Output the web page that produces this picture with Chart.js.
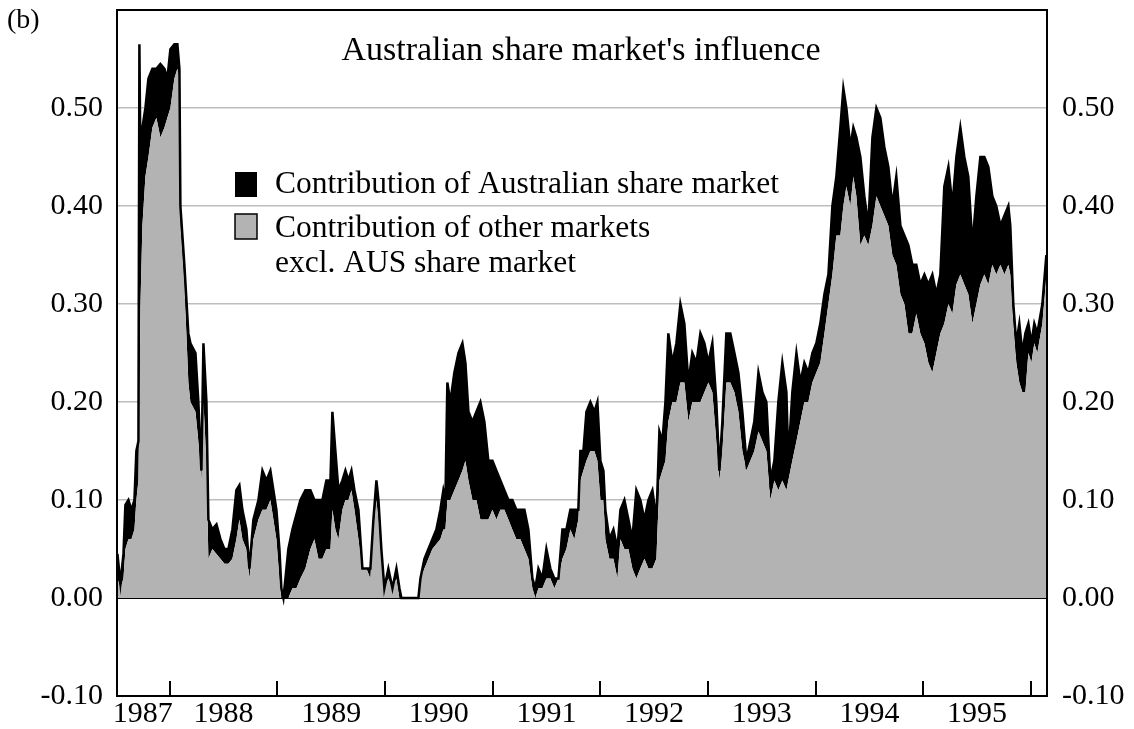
<!DOCTYPE html>
<html>
<head>
<meta charset="utf-8">
<script src="https://cdn.jsdelivr.net/npm/chart.js@4.4.1/dist/chart.umd.min.js"></script>
<style>
  html, body { margin: 0; padding: 0; background: #fff; }
  #wrap { width: 1134px; height: 729px; position: relative; }
</style>
</head>
<body>
<div id="wrap"><canvas id="chart"></canvas></div>
<script>
// dates as decimal years
const dates = [
  1987.514,1987.542,1987.570,1987.588,1987.616,1987.644,1987.672,1987.690,1987.709,1987.718,1987.728,1987.746,1987.774,1987.802,1987.839,1987.876,1987.913,1987.951,1987.978,
  1988.006,1988.043,1988.071,1988.090,1988.099,1988.136,1988.173,1988.192,1988.239,1988.266,1988.294,1988.313,1988.341,1988.359,1988.396,1988.434,1988.471,1988.508,1988.545,1988.582,1988.619,1988.647,1988.675,1988.712,1988.740,1988.777,1988.824,1988.861,1988.898,1988.935,1988.963,1988.991,
  1989.019,1989.037,1989.056,1989.075,1989.102,1989.140,1989.177,1989.214,1989.260,1989.307,1989.344,1989.381,1989.418,1989.455,1989.493,1989.511,1989.539,1989.567,1989.604,1989.632,1989.660,1989.688,1989.716,1989.753,1989.790,1989.827,1989.864,1989.892,1989.920,1989.939,1989.966,1989.994,
  1990.031,1990.069,1990.106,1990.134,1990.152,1990.310,1990.329,1990.366,1990.403,1990.440,1990.477,1990.514,1990.542,1990.561,1990.579,1990.607,1990.644,1990.682,1990.719,1990.747,1990.775,1990.812,1990.849,1990.886,1990.923,1990.960,1990.998,
  1991.035,1991.072,1991.109,1991.146,1991.183,1991.220,1991.258,1991.295,1991.332,1991.369,1991.397,1991.425,1991.462,1991.499,1991.536,1991.573,1991.611,1991.648,1991.685,1991.722,1991.759,1991.796,1991.815,1991.843,1991.871,1991.908,1991.945,1991.973,
  1992.001,1992.029,1992.047,1992.084,1992.122,1992.159,1992.187,1992.224,1992.261,1992.298,1992.335,1992.372,1992.410,1992.447,1992.484,1992.521,1992.549,1992.577,1992.605,1992.632,1992.670,1992.707,1992.744,1992.781,1992.818,1992.855,1992.893,1992.930,1992.967,
  1993.004,1993.041,1993.078,1993.106,1993.134,1993.171,1993.208,1993.246,1993.283,1993.320,1993.357,1993.394,1993.431,1993.469,1993.506,1993.543,1993.580,1993.617,1993.654,1993.691,1993.729,1993.747,1993.784,1993.822,1993.859,1993.896,1993.933,1993.970,
  1994.007,1994.044,1994.082,1994.119,1994.156,1994.193,1994.230,1994.258,1994.286,1994.323,1994.351,1994.379,1994.416,1994.453,1994.490,1994.528,1994.565,1994.602,1994.639,1994.676,1994.713,1994.750,1994.788,1994.825,1994.862,1994.899,1994.936,1994.973,
  1995.011,1995.048,1995.085,1995.122,1995.159,1995.196,1995.234,1995.271,1995.308,1995.345,1995.382,1995.419,1995.457,1995.494,1995.531,1995.568,1995.605,1995.642,1995.679,1995.717,1995.754,1995.791,1995.809,1995.837,1995.865,1995.893,1995.921,1995.949,1995.977,1996.005,1996.032,1996.060,1996.107,1996.144
];

// contribution of other markets excl. AUS share market (grey)
const otherMarkets = [
  0.02,0.01,0.02,0.05,0.06,0.06,0.07,0.10,0.12,0.20,0.30,0.38,0.43,0.45,0.48,0.49,0.47,0.48,0.49,
  0.50,0.53,0.54,0.53,0.38,0.32,0.22,0.20,0.19,0.16,0.12,0.20,0.14,0.04,0.05,0.045,0.04,0.035,0.035,0.04,0.06,0.08,0.06,0.05,0.02,0.06,0.08,0.09,0.09,0.10,0.08,0.06,
  0.02,0,0,0,0,0.01,0.01,0.02,0.03,0.05,0.06,0.04,0.04,0.05,0.05,0.09,0.07,0.06,0.09,0.10,0.10,0.11,0.09,0.06,0.03,0.03,0.02,0.07,0.10,0.08,0.04,0.01,
  0.02,0.01,0.02,0,0,0,0.02,0.03,0.04,0.05,0.055,0.06,0.07,0.07,0.10,0.10,0.11,0.12,0.13,0.14,0.12,0.10,0.10,0.08,0.08,0.08,0.09,
  0.08,0.09,0.09,0.08,0.07,0.06,0.06,0.05,0.04,0.01,0,0.01,0.01,0.02,0.02,0.01,0.02,0.04,0.05,0.07,0.06,0.08,0.12,0.13,0.14,0.15,0.15,0.14,
  0.10,0.10,0.06,0.04,0.04,0.02,0.06,0.05,0.05,0.03,0.02,0.03,0.04,0.03,0.03,0.04,0.12,0.13,0.14,0.18,0.20,0.20,0.22,0.22,0.18,0.20,0.20,0.20,0.21,
  0.22,0.21,0.16,0.12,0.15,0.22,0.22,0.21,0.19,0.15,0.13,0.14,0.15,0.17,0.16,0.15,0.10,0.12,0.11,0.12,0.11,0.12,0.14,0.16,0.18,0.20,0.20,0.22,
  0.23,0.24,0.27,0.30,0.33,0.37,0.37,0.40,0.42,0.40,0.43,0.41,0.36,0.37,0.36,0.38,0.41,0.40,0.39,0.38,0.35,0.34,0.31,0.30,0.27,0.27,0.29,0.27,
  0.26,0.24,0.23,0.25,0.27,0.28,0.30,0.29,0.32,0.33,0.32,0.31,0.28,0.30,0.32,0.33,0.32,0.34,0.33,0.34,0.33,0.34,0.33,0.28,0.24,0.22,0.21,0.21,0.25,0.24,0.26,0.25,0.28,0.33
];

// contribution of the Australian share market (black, stacked on top)
const ausShare = [
  0.025,0.005,0.025,0.045,0.04,0.03,0.03,0.05,0.04,0.365,0.14,0.10,0.07,0.08,0.06,0.05,0.075,0.06,0.04,
  0.06,0.035,0.025,0.01,0.02,0.02,0.05,0.06,0.06,0.04,0.01,0.06,0.06,0.04,0.02,0.03,0.02,0.015,0.015,0.03,0.05,0.035,0.03,0.02,0.01,0.02,0.02,0.04,0.03,0.03,0.03,0.03,
  0.03,0.01,0,0.02,0.05,0.06,0.075,0.08,0.08,0.06,0.04,0.06,0.06,0.07,0.07,0.10,0.08,0.05,0.03,0.03,0.02,0.02,0.02,0.03,0,0,0.01,0.01,0.02,0.02,0.01,0,
  0.01,0,0.01,0.01,0,0,0,0.01,0.01,0.01,0.015,0.03,0.04,0.03,0.12,0.10,0.12,0.13,0.13,0.10,0.07,0.08,0.09,0.12,0.10,0.06,0.05,
  0.05,0.03,0.02,0.02,0.03,0.03,0.03,0.04,0.03,0.01,0.01,0.02,0.01,0.03,0.01,0.01,0,0.03,0.02,0.02,0.03,0.01,0.03,0.02,0.05,0.05,0.04,0.06,
  0.04,0.03,0.03,0.02,0.03,0.03,0.03,0.05,0.03,0.03,0.09,0.07,0.04,0.07,0.08,0.04,0.05,0.03,0.06,0.09,0.04,0.06,0.08,0.06,0.04,0.05,0.04,0.07,0.05,
  0.02,0.05,0.04,0.01,0.03,0.05,0.05,0.04,0.04,0.04,0.01,0.02,0.03,0.06,0.05,0.05,0.02,0.02,0.09,0.12,0.10,0.02,0.07,0.09,0.04,0.04,0.03,0.03,
  0.03,0.04,0.04,0.03,0.07,0.06,0.11,0.12,0.08,0.06,0.05,0.06,0.09,0.04,0.02,0.09,0.09,0.09,0.07,0.06,0.05,0.09,0.07,0.07,0.09,0.07,0.05,0.05,
  0.07,0.08,0.10,0.06,0.06,0.14,0.14,0.11,0.13,0.15,0.13,0.12,0.08,0.11,0.13,0.12,0.12,0.07,0.07,0.04,0.06,0.06,0.05,0.02,0.02,0.06,0.04,0.06,0.03,0.02,0.02,0.02,0.02,0.02
];

const yearTicks = [1988, 1989, 1990, 1991, 1992, 1993, 1994, 1995, 1996];
const yearLabelAt = [1987.75, 1988.5, 1989.5, 1990.5, 1991.5, 1992.5, 1993.5, 1994.5, 1995.5];
const yearLabels = ['1987', '1988', '1989', '1990', '1991', '1992', '1993', '1994', '1995'];
const valueTicks = [-0.1, 0, 0.1, 0.2, 0.3, 0.4, 0.5];

const seriesNames = ['Contribution of other markets excl. AUS share market', 'Contribution of Australian share market'];
const titleText = "Australian share market's influence";
const panelLabel = '(b)';

const FONT = 'Liberation Serif, Times New Roman, serif';
Chart.defaults.font.family = FONT;
Chart.defaults.font.size = 30;
Chart.defaults.color = '#000';

// frame, inward year ticks, title, legend
const decor = {
  id: 'decor',
  afterDraw(chart) {
    const { ctx, chartArea: a, scales } = chart;
    ctx.save();
    ctx.strokeStyle = '#000';
    ctx.lineWidth = 2;
    ctx.strokeRect(a.left, a.top, a.right - a.left, a.bottom - a.top);

    ctx.beginPath();
    yearTicks.forEach(v => {
      const px = Math.round(scales.x.getPixelForValue(v));
      ctx.moveTo(px, a.bottom);
      ctx.lineTo(px, a.bottom - 15);
    });
    ctx.stroke();

    ctx.fillStyle = '#000';
    ctx.textBaseline = 'middle';
    ctx.font = '34px ' + FONT;
    ctx.textAlign = 'center';
    ctx.fillText(titleText, 581, 51);

    ctx.font = '28px ' + FONT;
    ctx.textAlign = 'left';
    ctx.fillText(panelLabel, 7, 21);

    // legend
    const ds = chart.data.datasets;
    ctx.fillStyle = ds[1].backgroundColor;
    ctx.fillRect(235, 172, 22, 25);
    ctx.fillStyle = ds[0].backgroundColor;
    ctx.fillRect(235, 214, 22, 25);
    ctx.lineWidth = 1.5;
    ctx.strokeRect(235, 214, 22, 25);
    ctx.fillStyle = '#000';
    ctx.font = '31.5px ' + FONT;
    ctx.fillText(ds[1].label, 275, 185);
    ctx.fillText('Contribution of other markets', 275, 229);
    ctx.fillText('excl. AUS share market', 275, 264);
    ctx.restore();
  }
};

const yTickSetup = {
  type: 'linear',
  min: -0.1,
  max: 0.6,
  afterBuildTicks: s => { s.ticks = valueTicks.map(v => ({ value: v })); },
  ticks: { callback: v => v.toFixed(2) }
};

new Chart(document.getElementById('chart'), {
  type: 'line',
  data: {
    datasets: [
      {
        label: seriesNames[0],
        data: dates.map((d, i) => ({ x: d, y: otherMarkets[i] })),
        backgroundColor: '#b3b3b3',
        borderWidth: 0,
        pointRadius: 0,
        fill: 'origin',
        tension: 0
      },
      {
        label: seriesNames[1],
        data: dates.map((d, i) => ({ x: d, y: ausShare[i] })),
        backgroundColor: '#000',
        borderColor: '#000',
        borderWidth: 2.5,
        pointRadius: 0,
        fill: '-1',
        tension: 0
      }
    ]
  },
  options: {
    responsive: true,
    maintainAspectRatio: false,
    animation: false,
    layout: { padding: { top: 10 } },
    plugins: {
      legend: { display: false },
      tooltip: { enabled: false },
      filler: { drawTime: 'beforeDatasetsDraw' }
    },
    scales: {
      x: {
        type: 'linear',
        min: 1987.51,
        max: 1996.15,
        afterBuildTicks: s => { s.ticks = yearLabelAt.map(v => ({ value: v })); },
        afterFit: s => { s.height = 33; s.paddingLeft = 0; s.paddingRight = 0; },
        grid: { display: false, drawTicks: false },
        border: { display: false },
        ticks: { autoSkip: false, maxRotation: 0, padding: 0, callback: (v, i) => yearLabels[i] }
      },
      y: {
        ...yTickSetup,
        position: 'left',
        stacked: true,
        afterFit: s => { s.width = 117; s.paddingTop = 0; s.paddingBottom = 0; },
        border: { display: false },
        grid: {
          drawTicks: false,
          color: c => (c.tick && c.tick.value === 0 ? '#000' : '#bdbdbd'),
          lineWidth: c => (c.tick && c.tick.value === 0 ? 2 : 1.5)
        },
        ticks: { ...yTickSetup.ticks, padding: 14 }
      },
      y2: {
        ...yTickSetup,
        position: 'right',
        afterFit: s => { s.width = 87; s.paddingTop = 0; s.paddingBottom = 0; },
        border: { display: false },
        grid: { display: false, drawTicks: false },
        ticks: { ...yTickSetup.ticks, padding: 15 }
      }
    }
  },
  plugins: [decor]
});
</script>
</body>
</html>
